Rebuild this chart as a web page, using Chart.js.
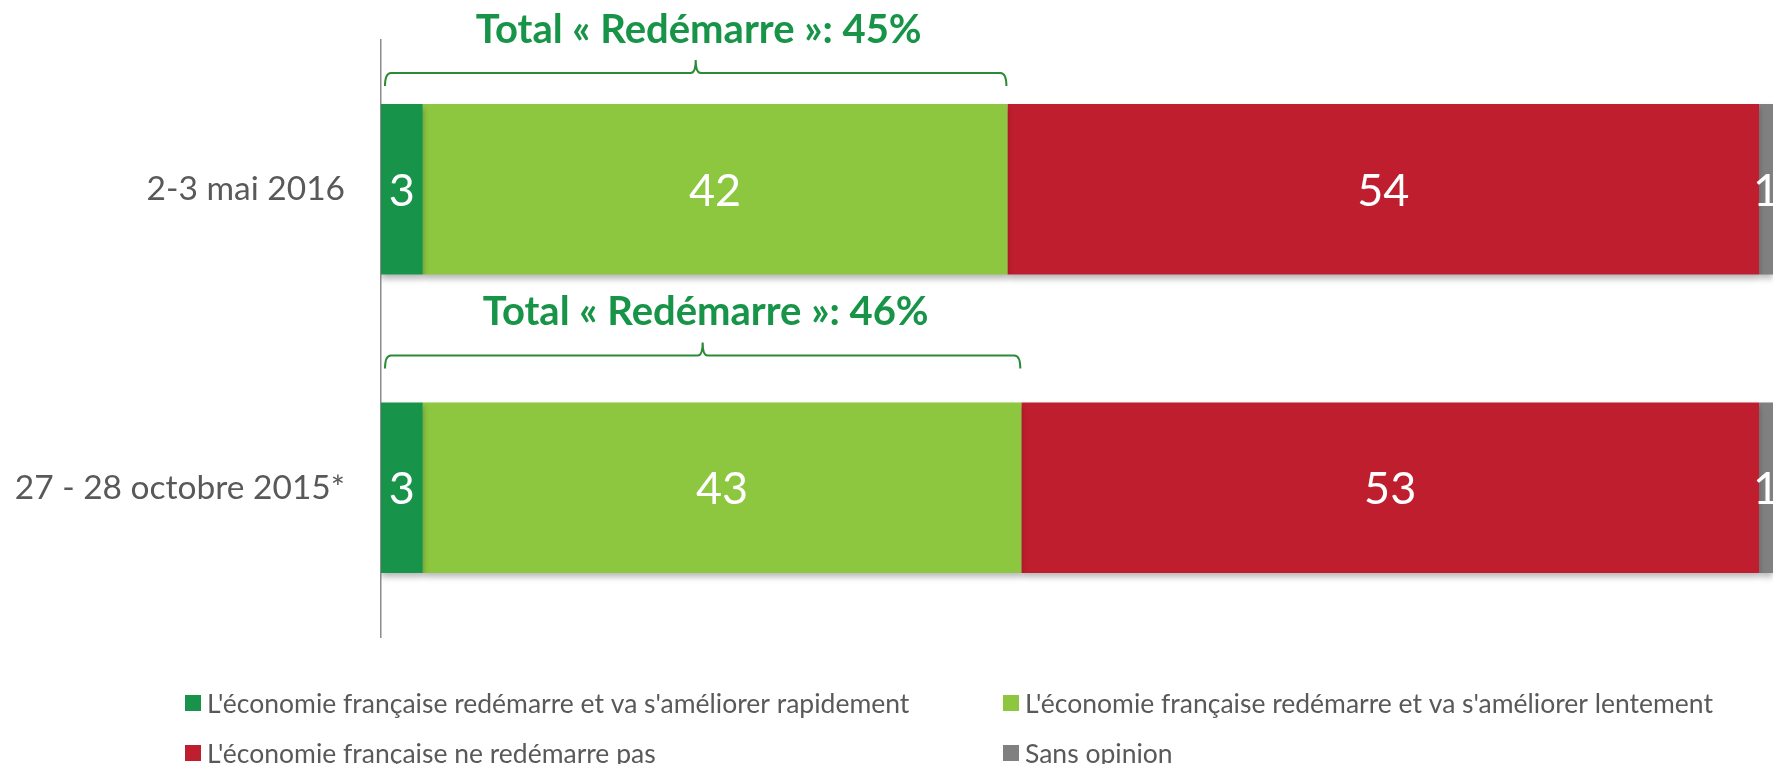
<!DOCTYPE html>
<html>
<head>
<meta charset="utf-8">
<script src="https://cdn.jsdelivr.net/npm/chart.js@4"></script>
<style>
  html, body { margin: 0; padding: 0; background: #fff; overflow: hidden; }
  #wrap { width: 1773px; height: 764px; }
</style>
</head>
<body>
<div id="wrap"><canvas id="EconomieChart"></canvas></div>
<script>
const categories = ['2-3 mai 2016', '27 - 28 octobre 2015*'];
const rapidement = [3, 3];
const lentement = [42, 43];
const nePas = [54, 53];
const sansOpinion = [1, 1];
const totalRedemarre = [45, 46];

const seriesLabels = [
  "L'économie française redémarre et va s'améliorer rapidement",
  "L'économie française redémarre et va s'améliorer lentement",
  "L'économie française ne redémarre pas",
  'Sans opinion'
];
const colors = ['#17934A', '#8DC63F', '#BE1E2D', '#808080'];

const FONT = 'Lato, "Open Sans", sans-serif';

// bar shadow, values inside the bars
const barDecor = {
  id: 'barDecor',
  beforeDatasetsDraw(chart) {
    const ctx = chart.ctx;
    ctx.save();
    ctx.shadowColor = 'rgba(0,0,0,0.28)';
    ctx.shadowBlur = 6;
    ctx.shadowOffsetY = 4;
  },
  afterDatasetsDraw(chart) {
    const ctx = chart.ctx;
    ctx.restore();
    ctx.save();
    ctx.fillStyle = '#fff';
    ctx.font = '45px ' + FONT;
    ctx.textAlign = 'center';
    ctx.textBaseline = 'middle';
    chart.data.datasets.forEach((ds, i) => {
      chart.getDatasetMeta(i).data.forEach((bar, j) => {
        const cx = (bar.x + bar.base) / 2;
        ctx.fillText(String(ds.data[j]), cx, bar.y + 2);
      });
    });
    ctx.restore();
  }
};

// green brackets + "Total « Redémarre »" labels
const gaps = [18, 34];
const brackets = {
  id: 'brackets',
  afterDraw(chart) {
    const ctx = chart.ctx;
    const x = chart.scales.x;
    const meta = chart.getDatasetMeta(0);
    ctx.save();
    totalRedemarre.forEach((tot, j) => {
      const bar = meta.data[j];
      const top = bar.y - bar.height / 2;
      const x0 = x.getPixelForValue(0) + 4;
      const x1 = x.getPixelForValue(tot) - 1;
      const mid = (x0 + x1) / 2;
      const yEnd = top - gaps[j];
      const yLine = yEnd - 13;
      const yTip = yLine - 13;
      ctx.strokeStyle = '#2A8A36';
      ctx.lineWidth = 2;
      ctx.beginPath();
      ctx.moveTo(x0, yEnd);
      ctx.quadraticCurveTo(x0, yLine, x0 + 6, yLine);
      ctx.lineTo(mid - 5, yLine);
      ctx.quadraticCurveTo(mid, yLine, mid, yTip);
      ctx.quadraticCurveTo(mid, yLine, mid + 5, yLine);
      ctx.lineTo(x1 - 6, yLine);
      ctx.quadraticCurveTo(x1, yLine, x1, yEnd);
      ctx.stroke();

      ctx.fillStyle = '#179447';
      ctx.font = 'bold 40px ' + FONT;
      ctx.textAlign = 'center';
      ctx.textBaseline = 'alphabetic';
      ctx.fillText('Total « Redémarre »: ' + tot + '%', mid + 3, yTip - 17);
    });
    ctx.restore();
  }
};

// two-column legend under the chart
const legendCols = [185, 1003];
const legendRows = [703, 753];
const legend2col = {
  id: 'legend2col',
  afterDraw(chart) {
    const ctx = chart.ctx;
    ctx.save();
    ctx.font = '26.5px ' + FONT;
    ctx.textBaseline = 'middle';
    ctx.textAlign = 'left';
    chart.data.datasets.forEach((ds, i) => {
      const lx = legendCols[i % 2];
      const ly = legendRows[Math.floor(i / 2)];
      ctx.fillStyle = ds.backgroundColor;
      ctx.fillRect(lx, ly - 8, 16, 16);
      ctx.fillStyle = '#595959';
      ctx.fillText(ds.label, lx + 22, ly + 1);
    });
    ctx.restore();
  }
};

const seriesData = [rapidement, lentement, nePas, sansOpinion];

const chartConfig = {
  type: 'bar',
  data: {
    labels: categories,
    datasets: seriesData.map((d, i) => ({
      label: seriesLabels[i],
      data: d,
      backgroundColor: colors[i],
      borderWidth: 0,
      barPercentage: 0.572,
      categoryPercentage: 1
    }))
  },
  options: {
    indexAxis: 'y',
    responsive: true,
    maintainAspectRatio: false,
    animation: false,
    layout: { padding: { top: 40, bottom: 127, left: 0, right: 0 } },
    plugins: {
      legend: { display: false },
      tooltip: { enabled: false }
    },
    scales: {
      x: {
        stacked: true,
        min: 0,
        max: 100,
        display: false
      },
      y: {
        stacked: true,
        grid: { display: false, drawTicks: false },
        border: { display: true, color: '#8C8C8C', width: 1.5 },
        ticks: {
          color: '#595959',
          font: { family: FONT, size: 33.5 },
          padding: 36
        },
        afterFit(scale) {
          scale.width = 381;
          scale.paddingTop = 0;
          scale.paddingBottom = 0;
        }
      }
    }
  },
  plugins: [barDecor, brackets, legend2col]
};

const ctx = document.getElementById('EconomieChart').getContext('2d');
new Chart(ctx, chartConfig);
</script>
</body>
</html>
